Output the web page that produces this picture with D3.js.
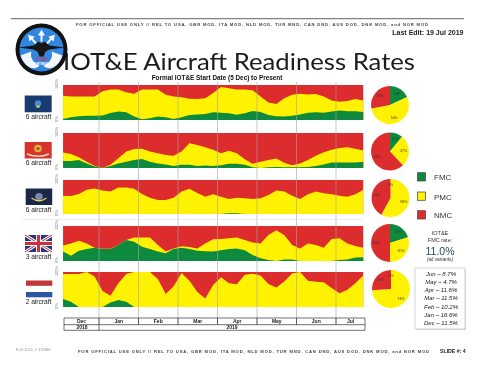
<!DOCTYPE html>
<html>
<head>
<meta charset="utf-8">
<script src="https://cdn.jsdelivr.net/npm/d3@7"></script>
<style>
html, body { margin: 0; padding: 0; background: #fff; }
svg { display: block; filter: blur(0.4px); font-family: "Liberation Sans", Arial, sans-serif; }
</style>
</head>
<body>
<svg id="chart" width="480" height="376"></svg>
<script>
//
// IOT&E aircraft readiness slide: five stacked area strips with a pie per
// variant. Values every 0.2 month, in percent of fleet.
//

var months = ["Dec", "Jan", "Feb", "Mar", "Apr", "May", "Jun", "Jul"];
var years = ["2018", "2019"];

// time of each sample, in months since 1 Dec
var sampleTimes = d3.range(39).map(function(i) { return 0.09 + 0.2 * i; });

// FMC is the green height, FMC+PMC is the top of the yellow, the rest is red
var usafFmc  = [3,8,11,12,12,13,20,24,22,10,2,5,10,8,3,8,14,16,17,22,21,19,15,19,26,23,14,11,10,12,16,21,22,21,24,27,25,25,23];
var usafTop  = [69,67,67,67,67,82,87,87,79,75,87,87,87,72,67,65,61,60,62,77,94,91,87,87,85,67,50,46,62,72,75,73,74,67,56,52,54,60,56];
var usmcFmc  = [20,20,23,13,4,0,6,13,18,23,26,18,13,10,6,9,9,6,7,6,8,12,12,9,2,0,2,3,2,2,2,3,6,10,16,16,16,16,18];
var usmcTop  = [44,40,31,18,6,0,9,28,47,54,55,47,42,37,35,47,71,66,59,52,42,49,42,25,12,18,23,27,15,8,13,23,35,45,52,57,59,55,50];
var usnFmc   = [0,0,0,0,0,0,0,0,0,0,0,0,0,0,0,0,0,0,0,0,0,2,2,0,0,0,0,0,0,0,0,0,0,0,0,0,0,0,0];
var usnTop   = [53,53,59,71,75,69,66,78,78,74,59,48,41,41,48,66,74,62,51,58,51,44,48,46,44,46,56,69,66,54,44,58,66,61,58,54,51,58,71];
var ukFmc    = [27,15,29,34,38,34,34,46,60,55,41,34,27,22,34,38,34,29,28,27,31,34,36,31,17,8,3,0,4,4,0,0,0,0,0,3,4,10,11];
var ukTop    = [44,50,58,50,38,35,35,46,60,67,67,67,46,27,36,42,40,36,50,62,63,65,67,60,53,50,74,88,74,46,36,50,46,38,63,65,50,43,38];
var nlFmc    = [23,15,0,0,0,0,13,20,15,0,0,0,0,0,0,0,0,0,0,0,0,0,0,0,0,0,0,0,0,0,0,0,0,0,0,0,0,0,0];
var nlTop    = [94,94,94,100,87,46,32,68,94,100,100,100,80,37,59,97,75,43,24,63,85,68,65,92,95,90,66,56,73,96,100,75,72,71,54,39,49,68,90];

var rowLabels = ["6 aircraft", "6 aircraft", "6 aircraft", "3 aircraft", "2 aircraft"];

// pie shares [FMC, PMC, NMC]
var pieUsaf = [18, 54, 28];
var pieUsmc = [11, 27, 62];
var pieUsn  = [0, 58, 42];
var pieUk   = [20, 30, 50];
var pieNl   = [0, 74, 26];

var statusNames = ["FMC", "PMC", "NMC"];
var fmcHistory = ["Jun – 8.7%", "May – 4.7%", "Apr – 11.6%", "Mar – 11.5%", "Feb – 10.2%", "Jan – 16.6%", "Dec – 11.5%"];

var markingText = "FOR OFFICIAL USE ONLY // REL TO USA, GBR MOD, ITA MOD, NLD MOD, TUR MND, CAN DND, AUS DOD, DNK MOD, and NOR MOD";

var colors = { FMC: "#0d8a3e", PMC: "#fef200", NMC: "#dd2c2e" };

//////////////////////////////////////////////////////////////////////////////
// Layout

var svg = d3.select("#chart");
var xScale = d3.scaleLinear().domain([0, 8]).range([59.5, 375.5]);

var rows = [
    { fmc: usafFmc, top: usafTop, y0: 85,  y1: 120, pie: pieUsaf, cy: 105,   cx: 390,   flagY: 95.5 },
    { fmc: usmcFmc, top: usmcTop, y0: 133, y1: 168, pie: pieUsmc, cy: 151.5, cx: 390,   flagY: 142 },
    { fmc: usnFmc,  top: usnTop,  y0: 180, y1: 214, pie: pieUsn,  cy: 198,   cx: 390.5, flagY: 188.5 },
    { fmc: ukFmc,   top: ukTop,   y0: 226, y1: 261, pie: pieUk,   cy: 243,   cx: 390,   flagY: 235 },
    { fmc: nlFmc,   top: nlTop,   y0: 272, y1: 307, pie: pieNl,   cy: 289,   cx: 391,   flagY: 280.5 }
];

function addText(x, y, str, size, opts)
{
    opts = opts || {};
    return svg.append("text")
        .attr("x", x)
        .attr("y", y)
        .attr("font-size", size)
        .attr("text-anchor", opts.anchor || "middle")
        .attr("font-weight", opts.weight || null)
        .attr("font-style", opts.style || null)
        .attr("font-family", opts.family || null)
        .attr("fill", opts.fill || "#222")
        .text(str);
}

//////////////////////////////////////////////////////////////////////////////
// Area strips

rows.forEach(function(row) {
    var yScale = d3.scaleLinear().domain([0, 100]).range([row.y1, row.y0]);
    var g = svg.append("g");

    function band(values, color) {
        var area = d3.area()
            .x(function(d, i) { return xScale(sampleTimes[i]); })
            .y0(yScale(0))
            .y1(function(d) { return yScale(d); });
        g.append("path").attr("d", area(values)).attr("fill", color);
    }

    band(sampleTimes.map(function() { return 100; }), colors.NMC);
    band(row.top, colors.PMC);
    band(row.fmc, colors.FMC);

    // rotated end labels of the y axis
    [[100, "100%"], [0, "0%"]].forEach(function(t) {
        svg.append("text")
            .attr("transform", "translate(58," + (yScale(t[0]) - 1) + ") rotate(-90)")
            .attr("text-anchor", "middle")
            .attr("font-size", 4)
            .attr("fill", "#777")
            .text(t[1]);
    });
});

// month lines run through all strips and into the table
svg.append("g")
    .selectAll("line")
    .data(d3.range(1, 8))
    .enter()
    .append("line")
    .attr("x1", xScale)
    .attr("x2", xScale)
    .attr("y1", 82)
    .attr("y2", 325)
    .attr("stroke", "#a2a2a2")
    .attr("stroke-width", 0.6);

// faint rule between the lower strips, left over from the slide
svg.append("line").attr("x1", 22).attr("x2", 362).attr("y1", 219.5).attr("y2", 219.5)
    .attr("stroke", "#e4e4e4").attr("stroke-width", 0.7);

//////////////////////////////////////////////////////////////////////////////
// Time table under the strips

var tableLeft = 64, tableRight = 365;
var tableYs = [318, 324.7, 330.3];

tableYs.forEach(function(y) {
    svg.append("line").attr("x1", tableLeft).attr("x2", tableRight)
        .attr("y1", y).attr("y2", y).attr("stroke", "#333").attr("stroke-width", 0.7);
});
[tableLeft, tableRight, xScale(1)].forEach(function(x) {
    svg.append("line").attr("x1", x).attr("x2", x)
        .attr("y1", tableYs[0]).attr("y2", tableYs[2]).attr("stroke", "#333").attr("stroke-width", 0.7);
});
d3.range(2, 8).forEach(function(m) {
    svg.append("line").attr("x1", xScale(m)).attr("x2", xScale(m))
        .attr("y1", tableYs[0]).attr("y2", tableYs[1]).attr("stroke", "#333").attr("stroke-width", 0.7);
});
months.forEach(function(m, i) {
    var left = Math.max(i, xScale.invert(tableLeft));
    var right = Math.min(i + 1, xScale.invert(tableRight));
    addText(xScale((left + right) / 2), 323.3, m, 5, { weight: "bold" });
});
addText(xScale(0.57), 329, years[0], 5, { weight: "bold" });
addText(232, 329, years[1], 5, { weight: "bold" });

//////////////////////////////////////////////////////////////////////////////
// Pies

var pie = d3.pie().sort(null).startAngle(0).endAngle(2 * Math.PI);

rows.forEach(function(row) {
    var r = 19;
    var arc = d3.arc().innerRadius(0).outerRadius(r);
    var labelArc = d3.arc().innerRadius(r * 0.72).outerRadius(r * 0.72);
    var g = svg.append("g").attr("transform", "translate(" + row.cx + "," + row.cy + ")");

    g.selectAll("path")
        .data(pie(row.pie))
        .enter()
        .append("path")
        .attr("d", arc)
        .attr("fill", function(d, i) { return colors[statusNames[i]]; });

    g.selectAll("text")
        .data(pie(row.pie))
        .enter()
        .append("text")
        .attr("transform", function(d) { return "translate(" + labelArc.centroid(d) + ")"; })
        .attr("text-anchor", "middle")
        .attr("font-size", 3.5)
        .attr("dy", 1.2)
        .attr("fill", "#333")
        .text(function(d) { return d.value + "%"; });
});

//////////////////////////////////////////////////////////////////////////////
// Legend and FMC rate box

statusNames.forEach(function(name, i) {
    var y = [172.7, 192, 210.7][i];
    svg.append("rect").attr("x", 417.5).attr("y", y).attr("width", 8).attr("height", 8.3)
        .attr("fill", colors[name]).attr("stroke", "#444").attr("stroke-width", 0.7);
    addText(434, y + 7.5, name, 8, { anchor: "start", fill: "#333" });
});

addText(440, 235, "IOT&E", 5.5, { fill: "#333" });
addText(440, 241.5, "FMC rate:", 5.5, { fill: "#333" });
addText(440, 255, "11.0%", 10.5, { fill: "#2a4a5a" });
addText(440, 261, "(all variants)", 4.8, { style: "italic", fill: "#333" });

svg.append("rect").attr("x", 416).attr("y", 269).attr("width", 50).attr("height", 61)
    .attr("fill", "#d8d8d8");
svg.append("rect").attr("x", 415).attr("y", 268).attr("width", 50).attr("height", 61)
    .attr("fill", "#fff").attr("stroke", "#c4c4c4").attr("stroke-width", 0.7);

fmcHistory.forEach(function(line, i) {
    addText(441, 276.3 + i * 8.05, line, 6, { style: "italic", fill: "#222" });
});

//////////////////////////////////////////////////////////////////////////////
// Flags

function flagUsaf(y)
{
    svg.append("rect").attr("x", 24.7).attr("y", y).attr("width", 27).attr("height", 16.8).attr("fill", "#173a70");
    svg.append("circle").attr("cx", 38).attr("cy", y + 8).attr("r", 3.2).attr("fill", "#3f8ecf");
    svg.append("rect").attr("x", 36.3).attr("y", y + 10).attr("width", 3.4).attr("height", 2.2).attr("fill", "#d9c860");
}

function flagUsmc(y)
{
    svg.append("rect").attr("x", 24.7).attr("y", y).attr("width", 27).attr("height", 16.5).attr("fill", "#d8322e");
    svg.append("circle").attr("cx", 38).attr("cy", y + 6.5).attr("r", 3.8).attr("fill", "#e2b23c");
    svg.append("circle").attr("cx", 38).attr("cy", y + 6.5).attr("r", 1.6).attr("fill", "#a0522d");
    svg.append("path").attr("d", "M27," + (y + 12) + "Q38," + (y + 16.5) + " 49," + (y + 12))
        .attr("fill", "none").attr("stroke", "#f3e3c0").attr("stroke-width", 1.4);
}

function flagUsn(y)
{
    svg.append("rect").attr("x", 25.7).attr("y", y).attr("width", 26.5).attr("height", 16.5).attr("fill", "#1b2748");
    svg.append("ellipse").attr("cx", 39).attr("cy", y + 8).attr("rx", 3.8).attr("ry", 3.6).attr("fill", "#7f86a8");
    svg.append("path").attr("d", "M31.5," + (y + 9.5) + "Q39," + (y + 15) + " 46.5," + (y + 9.5))
        .attr("fill", "none").attr("stroke", "#e6cf55").attr("stroke-width", 1.3);
}

function flagUk(y)
{
    var x0 = 25, x1 = 52, y1 = y + 17;
    svg.append("rect").attr("x", x0).attr("y", y).attr("width", x1 - x0).attr("height", 17).attr("fill", "#24397a");
    svg.append("path").attr("d", "M" + x0 + "," + y + "L" + x1 + "," + y1 + "M" + x1 + "," + y + "L" + x0 + "," + y1)
        .attr("stroke", "#f4f4f4").attr("stroke-width", 3.2);
    svg.append("path").attr("d", "M" + x0 + "," + y + "L" + x1 + "," + y1 + "M" + x1 + "," + y + "L" + x0 + "," + y1)
        .attr("stroke", "#cf3040").attr("stroke-width", 1);
    svg.append("path").attr("d", "M" + (x0 + x1) / 2 + "," + y + "V" + y1 + "M" + x0 + "," + (y + 8.5) + "H" + x1)
        .attr("stroke", "#f4f4f4").attr("stroke-width", 5);
    svg.append("path").attr("d", "M" + (x0 + x1) / 2 + "," + y + "V" + y1 + "M" + x0 + "," + (y + 8.5) + "H" + x1)
        .attr("stroke", "#cf3040").attr("stroke-width", 3);
}

function flagNl(y)
{
    svg.append("rect").attr("x", 26).attr("y", y).attr("width", 26.3).attr("height", 5.3).attr("fill", "#c2373a");
    svg.append("rect").attr("x", 26).attr("y", y + 11.5).attr("width", 26.3).attr("height", 5.3).attr("fill", "#2c55a4");
}

[flagUsaf, flagUsmc, flagUsn, flagUk, flagNl].forEach(function(draw, i) {
    draw(rows[i].flagY);
});

[118.5, 165, 212, 259, 304].forEach(function(y, i) {
    addText(38.5, y, rowLabels[i], 6.6, { fill: "#222" });
});

//////////////////////////////////////////////////////////////////////////////
// Logo

function drawLogo()
{
    var g = svg.append("g").attr("transform", "translate(41.5,49.5)");
    g.append("circle").attr("r", 26).attr("fill", "#111");
    g.append("circle").attr("r", 22).attr("fill", "#3187e0");

    // white swoosh at the bottom
    g.append("path").attr("d", "M-21,6C-16,20 -6,21 -2,16C-8,14 -12,8 -10,2Z").attr("fill", "#f2f6fb");
    g.append("path").attr("d", "M21,6C16,20 6,21 2,16C8,14 12,8 10,2Z").attr("fill", "#f2f6fb");

    // arrows
    [0, -42, 42].forEach(function(a) {
        g.append("path")
            .attr("transform", "rotate(" + a + ")")
            .attr("d", "M0,-20L3.5,-14H1V-8H-1V-14H-3.5Z")
            .attr("fill", "#f5f8fc");
    });

    // jet seen from the front
    g.append("path")
        .attr("d", "M-23,-2L-8,-4L-3,-8L0,-6L3,-8L8,-4L23,-2L8,0L4,2L2,7L-2,7L-4,2L-8,0Z")
        .attr("fill", "#161616");

    g.append("text").attr("y", 11).attr("text-anchor", "middle").attr("font-size", 5.5)
        .attr("font-weight", "bold").attr("fill", "#d8323a").text("F-35");
    g.append("text").attr("y", 15.5).attr("text-anchor", "middle").attr("font-size", 3.2)
        .attr("font-weight", "bold").attr("fill", "#fff").text("LIGHTNING II");
}

//////////////////////////////////////////////////////////////////////////////
// Slide furniture

svg.append("line").attr("x1", 11).attr("x2", 464).attr("y1", 18.7).attr("y2", 18.7)
    .attr("stroke", "#666").attr("stroke-width", 1);

function marking(x, y, width)
{
    addText(x, y, markingText, 4.2, { anchor: "start", weight: "bold", fill: "#444" })
        .attr("textLength", width)
        .attr("lengthAdjust", "spacing");
}
marking(76, 26, 352);
marking(78, 352.6, 351);

addText(463.5, 34.5, "Last Edit: 19 Jul 2019", 7, { anchor: "end", weight: "bold", fill: "#222" });

addText(239, 69.5, "IOT&E Aircraft Readiness Rates", 24, { family: "Lato, 'Open Sans', sans-serif", fill: "#1c1c1c" })
    .attr("textLength", 352)
    .attr("lengthAdjust", "spacingAndGlyphs");
drawLogo();

addText(217, 79.5, "Formal IOT&E Start Date (5 Dec) to Present", 6.4, { weight: "bold", fill: "#111" });

addText(16, 350.5, "F-35 JOCL #: 170380", 3.6, { anchor: "start", fill: "#888" });
addText(440, 353, "SLIDE #: 4", 5.2, { anchor: "start", weight: "bold", fill: "#222" });
</script>
</body>
</html>
